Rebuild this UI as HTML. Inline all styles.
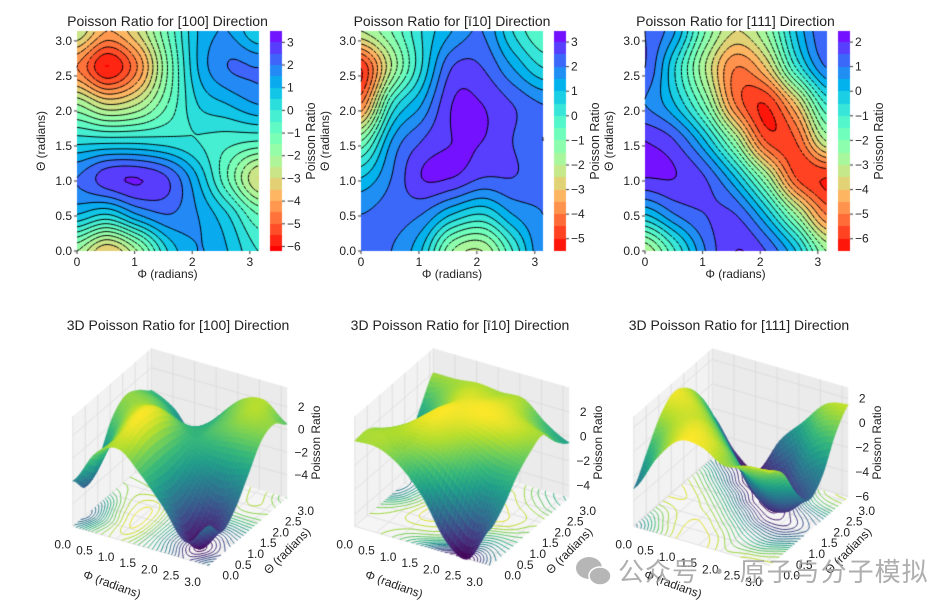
<!DOCTYPE html>
<html><head><meta charset="utf-8"><style>
body{margin:0;background:#fff;width:942px;height:608px;overflow:hidden;position:relative;font-family:"Liberation Sans","DejaVu Sans",sans-serif}
canvas,svg{position:absolute;left:0;top:0}
</style></head><body>
<canvas id="c" width="942" height="608"></canvas>
<svg id="s" width="942" height="608"></svg>
<div style="position:absolute;left:574px;top:552px;display:flex;align-items:center;opacity:0.85">
 <svg width="40" height="34" style="position:relative"><ellipse cx="15" cy="14" rx="13" ry="11" fill="#aaa"/><ellipse cx="26" cy="22" rx="11" ry="9" fill="#aaa" stroke="#fff" stroke-width="1.5"/></svg>
 <span style="font:26px 'Noto Sans CJK SC',sans-serif;color:#a0a0a0;margin-left:4px;letter-spacing:1px">公众号 · 原子与分子模拟</span>
</div>
<script>
const directions=["[100]","[\u012B10]","[111]"];
const phiTicks=[0,1,2,3];
const thetaTicks=[0,0.5,1,1.5,2,2.5,3];
const grid100=[
[-2,-3.5,-2,0.5,1.5,1,0],
[1,0.5,1.5,2,1.5,0.5,-1],
[2,2.8,3,2.5,1,-1,-3],
[0.3,0.3,0.3,0.2,0,-0.3,-0.5],
[-2,-3,-2.5,-1,0.5,1,1.5],
[-4.5,-6,-4.5,-1.5,1,2,2],
[-2.5,-4,-3,-1,1,1.5,0.5]];
const grid110=[
[2,2,1,-1.5,-2,0,2],
[2,2.2,2,1,0.5,1.5,2],
[1,2,3,3,2.5,2.5,2.2],
[-1,1.5,2.5,3,3,2.5,2],
[-4,0,1.5,3,3,2.5,2],
[-5,-2,0.5,2.5,2.5,1.5,0.5],
[-2,-1,0.5,1.5,2,0.5,-0.5]];
const grid111=[
[-3,-1,1,2,1.5,0,-2.5],
[0,1,1.5,1.5,0,-2.5,-5],
[2,2,1.5,0,-2.5,-5.5,-6],
[2,1.5,0,-2.5,-5.5,-5.5,-3],
[1,0,-2,-5,-6,-4,-1],
[1.5,-0.5,-3,-5,-4,-1,1],
[1.5,0.5,-2,-3.5,-2.5,0,1.5]];
const grids=[grid100,grid110,grid111];
const cbarRanges=[[-6.2,3.5],[-5.5,3.45],[-6.5,2.45]];
const cbarTicks1=[3,2,1,0,-1,-2,-3,-4,-5,-6];
const cbarTicks2=[3,2,1,0,-1,-2,-3,-4,-5];
const cbarTicks3=[2,1,0,-1,-2,-3,-4,-5,-6];
const cbarTicks=[cbarTicks1,cbarTicks2,cbarTicks3];
const zTicks1=[2,0,-2,-4];
const zTicks2=[2,0,-2,-4];
const zTicks3=[2,0,-2,-4,-6];
const zTicks=[zTicks1,zTicks2,zTicks3];
const zRanges=[[-6,3.7],[-5,4],[-6.1,2.9]];
const surfTicks=[0,0.5,1,1.5,2,2.5,3];

const PI=Math.PI;
const axes=[{x0:77,x1:258,cb:270},{x0:361,x1:543,cb:554},{x0:645,x1:826,cb:838}];
const Y0=31,Y1=251;
const cx3=[180,462,741],cy3=457;
const ctx=document.getElementById('c').getContext('2d');
const svg=document.getElementById('s');
const NS='http://www.w3.org/2000/svg';
function txt(x,y,s,name,opt){opt=opt||{};const t=document.createElementNS(NS,'text');
t.setAttribute('x',x);t.setAttribute('y',y);t.textContent=s;
t.setAttribute('font-size',opt.fs||12);t.setAttribute('fill',opt.fill||'#222');
t.setAttribute('text-anchor',opt.a||'middle');
if(opt.rot!==undefined)t.setAttribute('transform','rotate('+opt.rot+' '+x+' '+y+')');


svg.appendChild(t);return t;}

function cr(p0,p1,p2,p3,t){return 0.5*(2*p1+(-p0+p2)*t+(2*p0-5*p1+4*p2-p3)*t*t+(-p0+3*p1-3*p2+p3)*t*t*t);}
function sample(g,phi,th){
 const u=Math.max(0,Math.min(6,phi/PI*6)),v=Math.max(0,Math.min(6,th/PI*6));
 const i=Math.min(5,Math.floor(u)),j=Math.min(5,Math.floor(v)),fu=u-i,fv=v-j;
 const G=(r,c)=>g[Math.max(0,Math.min(6,r))][Math.max(0,Math.min(6,c))];
 const rows=[];for(let k=-1;k<3;k++)rows.push(cr(G(j+k,i-1),G(j+k,i),G(j+k,i+1),G(j+k,i+2),fu));
 return cr(rows[0],rows[1],rows[2],rows[3],fv);
}
function rainbowR(v,lo,hi){let t=(hi-v)/(hi-lo);t=Math.max(0,Math.min(1,t));
 const r=Math.min(1,Math.abs(2*t-0.5)),g=Math.sin(PI*t),b=Math.cos(PI*t/2);
 return 'rgb('+Math.round(r*255)+','+Math.round(g*255)+','+Math.round(Math.max(0,b)*255)+')';}
const VIR=[[68,1,84],[72,40,120],[62,73,137],[49,104,142],[38,130,142],[31,158,137],[53,183,121],[110,206,88],[181,222,43],[253,231,37]];
function viridis(t){t=Math.max(0,Math.min(1,t))*9;const i=Math.min(8,Math.floor(t)),f=t-i,a=VIR[i],b=VIR[i+1];
 return 'rgb('+Math.round(a[0]+(b[0]-a[0])*f)+','+Math.round(a[1]+(b[1]-a[1])*f)+','+Math.round(a[2]+(b[2]-a[2])*f)+')';}

function contours(F,n,level,emit){
 for(let j=0;j<n;j++)for(let i=0;i<n;i++){
  const a=F[j][i],b=F[j][i+1],c=F[j+1][i+1],d=F[j+1][i];const pts=[];
  const e=(v1,v2,x1,y1,x2,y2)=>{if((v1<level)!=(v2<level)){const t=(level-v1)/(v2-v1);pts.push([x1+(x2-x1)*t,y1+(y2-y1)*t]);}};
  e(a,b,i,j,i+1,j);e(b,c,i+1,j,i+1,j+1);e(c,d,i+1,j+1,i,j+1);e(d,a,i,j+1,i,j);
  if(pts.length>=2)emit(pts[0],pts[1]);if(pts.length==4)emit(pts[2],pts[3]);
 }}

for(let p=0;p<3;p++){
 const A=axes[p],g=grids[p],[lo,hi]=cbarRanges[p],W=A.x1-A.x0,H=Y1-Y0;
 const q=v=>Math.floor(v*2)/2+0.25;
 const st=2;
 for(let y=0;y<H;y+=st)for(let x=0;x<W;x+=st){
  const v=sample(g,(x+1)/W*PI,(H-y-1)/H*PI);ctx.fillStyle=rainbowR(q(v),lo,hi);ctx.fillRect(A.x0+x,Y0+y,st,st);}
 const n=60,F=[];for(let j=0;j<=n;j++){F.push([]);for(let i=0;i<=n;i++)F[j].push(sample(g,i/n*PI,j/n*PI));}
 ctx.strokeStyle='#000';ctx.lineWidth=1;
 for(let L=Math.ceil(lo*2)/2;L<=hi;L+=0.5){
  ctx.beginPath();
  contours(F,n,L,(a,b)=>{ctx.moveTo(A.x0+a[0]/n*W,Y1-a[1]/n*H);ctx.lineTo(A.x0+b[0]/n*W,Y1-b[1]/n*H);});
  ctx.setLineDash(L<0?[3,2]:[]);ctx.stroke();}
 ctx.setLineDash([]);
 for(let y=0;y<H;y++){const v=hi-(y+0.5)/H*(hi-lo);ctx.fillStyle=rainbowR(q(v),lo,hi);ctx.fillRect(A.cb,Y0+y,12,1);}
 ctx.fillStyle='#333';
 cbarTicks[p].forEach(v=>{const y=Y0+(hi-v)/(hi-lo)*H;ctx.fillRect(A.cb+12,y-0.5,3,1);
  txt(A.cb+17,y+4,(v<0?'\u2212'+(-v):''+v),'colorbar-tick',{a:'start'});});
 txt(A.cb+45,Y0+H/2,'Poisson Ratio','colorbar-label',{rot:-90,fs:12.5});
 ctx.fillStyle='#333';
 phiTicks.forEach(v=>{const x=A.x0+v/PI*W;ctx.fillRect(x-0.5,Y1,1,3);txt(x,Y1+15,''+v,'x-tick-label');});
 thetaTicks.forEach(v=>{const y=Y1-v/PI*H;ctx.fillRect(A.x0-3,y-0.5,3,1);txt(A.x0-5,y+4,v.toFixed(1),'y-tick-label',{a:'end'});});
 txt(A.x0+W/2,Y1+27,'\u03A6 (radians)','x-axis-title',{fs:12});
 txt(A.x0-32,Y0+H/2,'\u0398 (radians)','y-axis-title',{rot:-90,fs:12});
 txt(A.x0+W/2,26,'Poisson Ratio for '+directions[p]+' Direction','chart-title',{fs:14});
}

const S=157,h=0.405;
const R=[0.866,0.5,0],U=[-0.25,0.433,0.866],D=[0.433,-0.75,0.5];
for(let p=0;p<3;p++){
 const g=grids[p],[zl,zh]=zRanges[p],cx=cx3[p],cy=cy3;
 const P=(x,y,z)=>[cx+S*(R[0]*x+R[1]*y),cy-S*(U[0]*x+U[1]*y+U[2]*z)];
 const dep=(x,y,z)=>D[0]*x+D[1]*y+D[2]*z;
 const zn=v=>(v-zl)/(zh-zl)*2*h-h;
 const poly=(pts,fill,stroke)=>{ctx.beginPath();pts.forEach((q,k)=>{const s=P(...q);k?ctx.lineTo(s[0],s[1]):ctx.moveTo(s[0],s[1]);});ctx.closePath();if(fill){ctx.fillStyle=fill;ctx.fill();}if(stroke){ctx.strokeStyle=stroke;ctx.stroke();}};
 ctx.lineWidth=1;
 poly([[-.5,-.5,-h],[-.5,.5,-h],[-.5,.5,h],[-.5,-.5,h]],'#f2f2f2');
 poly([[-.5,.5,-h],[.5,.5,-h],[.5,.5,h],[-.5,.5,h]],'#ebebeb');
 poly([[-.5,-.5,-h],[.5,-.5,-h],[.5,.5,-h],[-.5,.5,-h]],'#f5f5f5');
 const line=(a,b,c)=>{const s1=P(...a),s2=P(...b);ctx.strokeStyle=c;ctx.beginPath();ctx.moveTo(s1[0],s1[1]);ctx.lineTo(s2[0],s2[1]);ctx.stroke();};
 ctx.lineWidth=0.7;
 surfTicks.forEach(v=>{const t=v/PI-0.5;
  line([t,-.5,-h],[t,.5,-h],'#d8d8d8');line([t,.5,-h],[t,.5,h],'#d8d8d8');
  line([-.5,t,-h],[.5,t,-h],'#d8d8d8');line([-.5,t,-h],[-.5,t,h],'#d8d8d8');});
 zTicks[p].forEach(v=>{const z=zn(v);line([-.5,-.5,z],[-.5,.5,z],'#d8d8d8');line([-.5,.5,z],[.5,.5,z],'#d8d8d8');});
 const n=50,F=[];for(let j=0;j<=n;j++){F.push([]);for(let i=0;i<=n;i++)F[j].push(sample(g,j/n*PI,i/n*PI));}
 let mn=1e9,mx=-1e9;F.forEach(r=>r.forEach(v=>{mn=Math.min(mn,v);mx=Math.max(mx,v);}));
 ctx.lineWidth=1;
 for(let L=mn+0.25;L<mx;L+=0.45){ctx.strokeStyle=viridis((L-mn)/(mx-mn));ctx.beginPath();
  contours(F,n,L,(a,b)=>{const s1=P(a[0]/n-.5,a[1]/n-.5,-h),s2=P(b[0]/n-.5,b[1]/n-.5,-h);ctx.moveTo(s1[0],s1[1]);ctx.lineTo(s2[0],s2[1]);});ctx.stroke();}
 const m=40,quads=[];
 const val=(i,j)=>sample(g,j/m*PI,i/m*PI);
 for(let j=0;j<m;j++)for(let i=0;i<m;i++){
  const c=[[i,j],[i+1,j],[i+1,j+1],[i,j+1]].map(([a,b])=>[a/m-.5,b/m-.5,zn(val(a,b))]);
  const vv=(val(i,j)+val(i+1,j)+val(i+1,j+1)+val(i,j+1))/4;
  const dd=c.reduce((s,q)=>s+dep(...q),0)/4;quads.push([dd,c,vv]);}
 quads.sort((a,b)=>a[0]-b[0]);
 ctx.lineWidth=0.6;
 quads.forEach(([dd,c,vv])=>{const col=viridis((vv-mn)/(mx-mn));poly(c,col,col);});
 const lab=(q,dx,dy,s,name)=>{const sp=P(...q);txt(sp[0]+dx,sp[1]+dy,s,name,{fs:12});};
 [0,0.5,1,1.5,2,2.5,3].forEach(v=>{const t=v/PI-0.5;
  lab([t,-.5,-h],-10,22,v.toFixed(1),'phi-tick-label');
  lab([.5,t,-h],22,14,v.toFixed(1),'theta-tick-label');});
 zTicks[p].forEach(v=>lab([.5,.5,zn(v)],14,4,(v<0?'\u2212'+(-v):''+v),'z-tick-label'));
 const a1=P(0,-.5,-h);txt(a1[0]-30,a1[1]+42,'\u03A6 (radians)','phi-axis-title',{rot:20,fs:12});
 const a2=P(.5,0,-h);txt(a2[0]+42,a2[1]+22,'\u0398 (radians)','theta-axis-title',{rot:-45,fs:12});
 const a3=P(.5,.5,0);txt(a3[0]+33,a3[1],'Poisson Ratio','z-axis-title',{rot:-90,fs:12});
 txt(cx-2,330,'3D Poisson Ratio for '+directions[p]+' Direction','chart-title-3d',{fs:14});
}
</script>
</body></html>
